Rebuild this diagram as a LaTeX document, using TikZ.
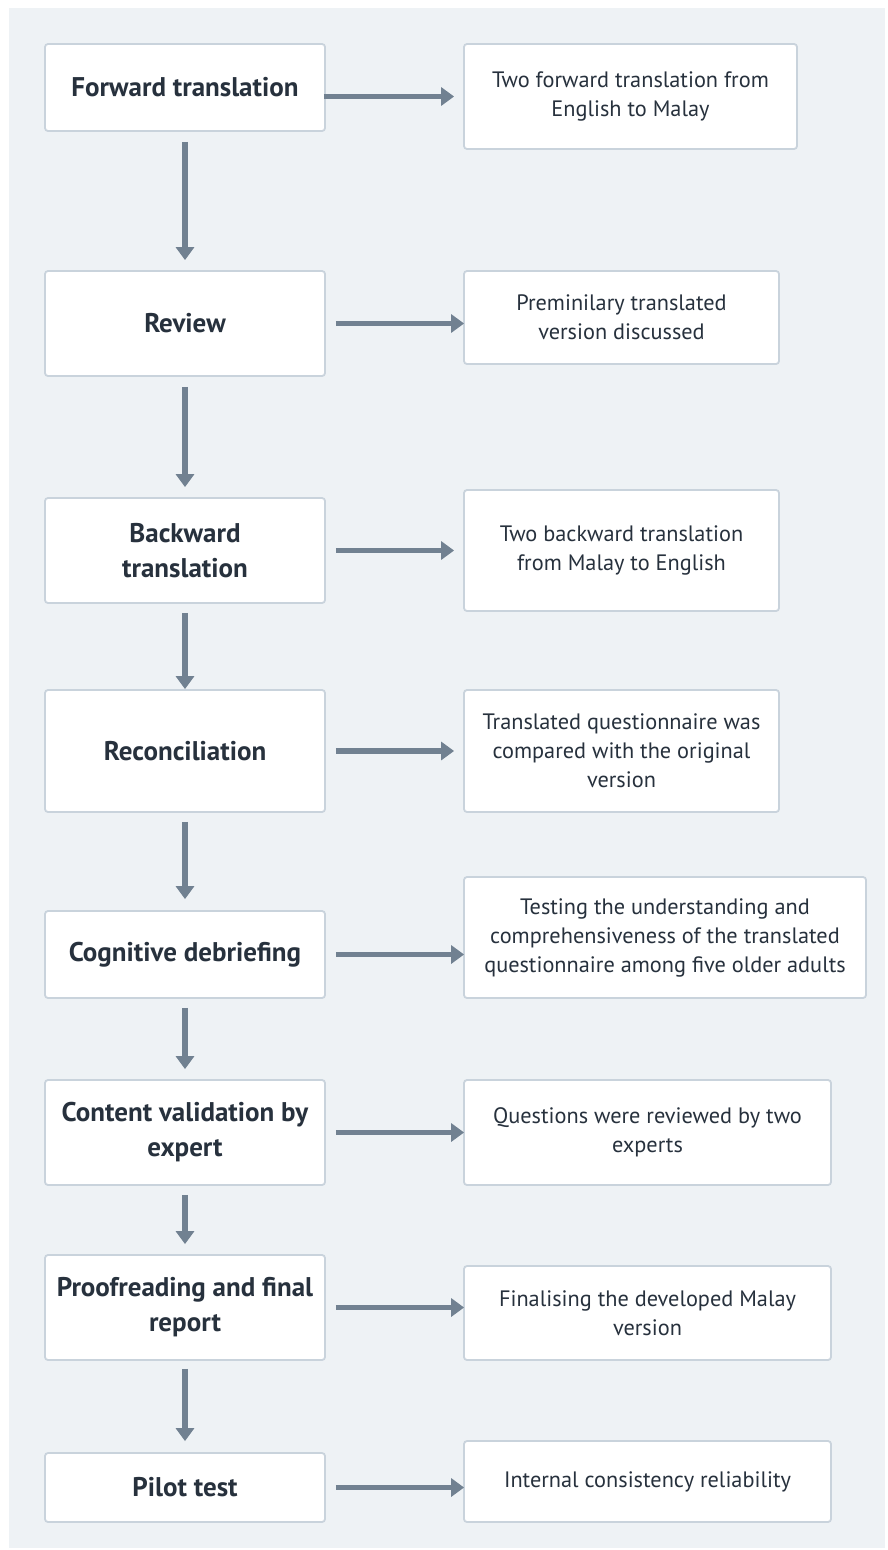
\documentclass[tikz,border=0pt]{standalone}
\usepackage{fontspec}
\setmainfont{PT Sans}
\usetikzlibrary{arrows.meta}
\definecolor{bgc}{HTML}{EEF2F5}
\definecolor{bordc}{HTML}{C9D3DC}
\definecolor{arrc}{HTML}{718191}
\definecolor{txtc}{HTML}{27313D}
\tikzset{
  lbox/.style={draw=bordc, line width=1.8pt, fill=white, rounded corners=3pt, minimum width=280pt, align=center, text=txtc, font=\fontsize{27}{35}\selectfont\bfseries, inner sep=0pt},
  rbox/.style={draw=bordc, line width=1.8pt, fill=white, rounded corners=3pt, align=center, text=txtc, font=\fontsize{22.3}{29}\selectfont, inner sep=0pt},
  arr/.style={draw=arrc, line width=5.5pt, -{Triangle[length=13pt,width=18pt]}}
}
\begin{document}
\begin{tikzpicture}[x=1pt,y=-1pt]
\useasboundingbox (0,0) rectangle (887,1550);
\fill[bgc] (9,8) rectangle (885,1548);
% left column
\node[lbox, minimum height=87pt]  (L1) at (185,87.5)  {Forward translation};
\node[lbox, minimum height=105pt] (L2) at (185,323.5) {Review};
\node[lbox, minimum height=105pt] (L3) at (185,550.5) {Backward\\translation};
\node[lbox, minimum height=122pt] (L4) at (185,751)   {Reconciliation};
\node[lbox, minimum height=87pt]  (L5) at (185,954.5) {Cognitive debriefing};
\node[lbox, minimum height=105pt] (L6) at (185,1132.5){Content validation by\\expert};
\node[lbox, minimum height=105pt] (L7) at (185,1307.5){Proofreading and final\\report};
\node[lbox, minimum height=69pt]  (L8) at (185,1487.5){Pilot test};
% right column
\node[rbox, minimum width=333pt, minimum height=105pt] (R1) at (630.5,96.5)  {Two forward translation from\\English to Malay};
\node[rbox, minimum width=315pt, minimum height=93pt]  (R2) at (621.5,317.5) {Preminilary translated\\version discussed};
\node[rbox, minimum width=315pt, minimum height=121pt] (R3) at (621.5,550.5) {Two backward translation\\from Malay to English};
\node[rbox, minimum width=315pt, minimum height=122pt] (R4) at (621.5,751)   {Translated questionnaire was\\compared with the original\\version};
\node[rbox, minimum width=402pt, minimum height=121pt] (R5) at (665,937.5)   {Testing the understanding and\\comprehensiveness of the translated\\questionnaire among five older adults};
\node[rbox, minimum width=367pt, minimum height=105pt] (R6) at (647.5,1132.5) {Questions were reviewed by two\\experts};
\node[rbox, minimum width=367pt, minimum height=94pt]  (R7) at (647.5,1313)  {Finalising the developed Malay\\version};
\node[rbox, minimum width=367pt, minimum height=81pt]  (R8) at (647.5,1481.5) {Internal consistency reliability};
% horizontal arrows
\draw[arr] ([xshift=-2pt]L1.east |- R1.west) -- ([xshift=-9pt]R1.west);
\draw[arr] ([xshift=10pt]L2.east) -- ([xshift=1pt]R2.west |- L2.east);
\draw[arr] ([xshift=10pt]L3.east) -- ([xshift=-9pt]R3.west |- L3.east);
\draw[arr] ([xshift=10pt]L4.east) -- ([xshift=-9pt]R4.west |- L4.east);
\draw[arr] ([xshift=10pt]L5.east) -- ([xshift=1pt]R5.west |- L5.east);
\draw[arr] ([xshift=10pt]L6.east) -- ([xshift=1pt]R6.west |- L6.east);
\draw[arr] ([xshift=10pt]L7.east) -- ([xshift=1pt]R7.west |- L7.east);
\draw[arr] ([xshift=10pt]L8.east) -- ([xshift=1pt]R8.west |- L8.east);
% vertical arrows
\draw[arr] ([yshift=-10pt]L1.south) -- ([yshift=10pt]L2.north);
\draw[arr] ([yshift=-10pt]L2.south) -- ([yshift=10pt]L3.north);
\draw[arr] ([yshift=-9pt]L3.south) -- ([yshift=0pt]L4.north);
\draw[arr] ([yshift=-9pt]L4.south) -- ([yshift=11pt]L5.north);
\draw[arr] ([yshift=-9pt]L5.south) -- ([yshift=10pt]L6.north);
\draw[arr] ([yshift=-9pt]L6.south) -- ([yshift=10pt]L7.north);
\draw[arr] ([yshift=-8pt]L7.south) -- ([yshift=11pt]L8.north);
\end{tikzpicture}
\end{document}
